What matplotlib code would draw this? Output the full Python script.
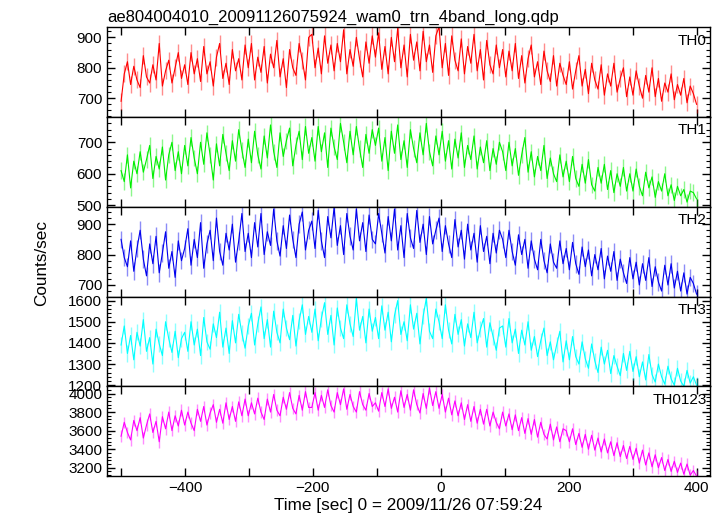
import numpy as np
import matplotlib
matplotlib.use("Agg")
import matplotlib.pyplot as plt
from matplotlib.ticker import MultipleLocator, AutoMinorLocator

plt.rcParams['font.family'] = ['Liberation Sans', 'DejaVu Sans']

title = "ae804004010_20091126075924_wam0_trn_4band_long.qdp"
band_names = ["TH0", "TH1", "TH2", "TH3", "TH0123"]
band_colors = ["#ff0000", "#00ee00", "#0000ee", "#00ffff", "#ff00ff"]
t_start, t_end = -500, 400

th0 = [690, 780, 820, 745, 805, 760, 735, 840, 770, 750, 810, 760, 880, 740, 790, 825, 750, 800, 850, 765,
       810, 745, 850, 780, 830, 755, 870, 780, 820, 740, 835, 880, 765, 815, 745, 860, 790, 830, 760, 875,
       800, 880, 760, 835, 785, 870, 750, 845, 800, 890, 770, 830, 735, 860, 800, 775, 880, 825, 760, 900,
       910, 800, 865, 780, 905, 815, 875, 790, 880, 820, 925, 780, 860, 805, 900, 830, 770, 885, 815, 905,
       835, 915, 795, 870, 780, 900, 820, 930, 800, 875, 770, 910, 825, 885, 790, 920, 820, 875, 785, 905,
       935, 800, 880, 775, 905, 825, 790, 895, 780, 870, 815, 910, 790, 860, 760, 890, 810, 780, 875, 800,
       860, 770, 855, 790, 880, 765, 840, 750, 830, 875, 770, 820, 745, 855, 790, 755, 840, 740, 815, 775,
       745, 820, 730, 790, 840, 740, 795, 715, 815, 760, 730, 810, 710, 780, 740, 815, 720, 765, 800, 705,
       770, 710, 790, 740, 700, 775, 720, 800, 705, 765, 690, 750, 720, 780, 695, 745, 710, 765, 685, 740,
       715, 680]
th1 = [610, 575, 660, 555, 640, 600, 670, 605, 645, 690, 585, 655, 615, 685, 580, 660, 700, 610, 670, 600,
       690, 625, 715, 650, 600, 700, 630, 730, 660, 580, 695, 625, 725, 665, 610, 705, 640, 740, 675, 620,
       710, 635, 735, 660, 615, 720, 650, 755, 670, 620, 730, 655, 705, 745, 625, 690, 735, 645, 750, 665,
       715, 640, 750, 670, 730, 620, 745, 685, 645, 760, 700, 635, 735, 660, 750, 680, 620, 725, 665, 740,
       690, 745, 640, 715, 610, 735, 665, 755, 645, 705, 620, 740, 680, 635, 730, 660, 760, 670, 625, 720,
       660, 735, 640, 705, 615, 710, 650, 730, 620, 690, 645, 720, 615, 685, 635, 705, 610, 680, 630, 700,
       670, 610, 700, 625, 680, 595, 660, 715, 605, 670, 590, 655, 610, 690, 585, 650, 600, 575, 660, 590,
       640, 575, 655, 585, 560, 630, 570, 645, 565, 545, 620, 570, 630, 550, 610, 540, 600, 560, 620, 545,
       600, 545, 615, 560, 530, 605, 555, 590, 525, 575, 545, 600, 530, 565, 515, 560, 530, 550, 510, 545,
       540, 520]
th2 = [850, 790, 760, 845, 745, 820, 880, 785, 730, 835, 770, 860, 740, 805, 875, 755, 810, 725, 845, 780,
       820, 885, 765, 850, 790, 905, 755, 835, 880, 780, 920, 810, 765, 870, 815, 900, 775, 845, 935, 810,
       870, 790, 905, 825, 935, 800, 875, 830, 950, 845, 795, 895, 820, 930, 850, 790, 900, 940, 815, 880,
       910, 820, 945, 845, 790, 925, 855, 955, 830, 895, 800, 935, 860, 815, 950, 845, 905, 810, 930, 850,
       835, 935, 870, 805, 925, 845, 950, 815, 895, 790, 935, 855, 820, 945, 840, 900, 800, 925, 835, 880,
       920, 810, 895, 835, 790, 915, 825, 880, 785, 900, 815, 870, 775, 895, 810, 860, 770, 870, 805, 880,
       850, 790, 880, 810, 765, 865, 800, 850, 755, 845, 785, 750, 850, 780, 740, 835, 775, 755, 845, 770,
       820, 750, 840, 770, 735, 825, 760, 815, 730, 800, 750, 820, 720, 795, 745, 810, 715, 785, 740, 705,
       790, 720, 775, 700, 770, 715, 790, 695, 760, 710, 680, 765, 700, 770, 690, 745, 680, 740, 670, 725,
       705, 670]
th3 = [1390, 1480, 1350, 1435, 1320, 1450, 1385, 1510, 1360, 1425, 1300, 1465, 1395, 1340, 1500, 1420, 1355, 1455, 1330, 1420,
       1450, 1360, 1500, 1390, 1465, 1340, 1520, 1405, 1370, 1490, 1425, 1545, 1380, 1470, 1350, 1505, 1400, 1535, 1445, 1375,
       1480, 1540, 1390, 1490, 1570, 1420, 1510, 1380, 1550, 1450, 1400, 1560, 1470, 1415, 1530, 1385, 1505, 1580, 1440, 1525,
       1450, 1560, 1410, 1515, 1590, 1440, 1530, 1390, 1565, 1470, 1420, 1580, 1490, 1430, 1610, 1460, 1525, 1400, 1560, 1455,
       1520, 1420, 1575, 1460, 1545, 1405, 1530, 1600, 1440, 1500, 1410, 1580, 1465, 1540, 1395, 1525, 1610, 1455, 1420, 1560,
       1500, 1420, 1580, 1460, 1395, 1535, 1440, 1510, 1385, 1490, 1425, 1545, 1400, 1465, 1515, 1380, 1495, 1430, 1365, 1470,
       1480, 1380, 1515, 1400, 1465, 1350, 1460, 1390, 1500, 1365, 1430, 1335, 1410, 1470, 1340, 1405, 1320, 1390, 1455, 1310,
       1410, 1320, 1430, 1335, 1300, 1405, 1325, 1280, 1395, 1315, 1260, 1380, 1300, 1365, 1255, 1340, 1290, 1245, 1350, 1270,
       1360, 1265, 1335, 1240, 1310, 1225, 1345, 1250, 1215, 1300, 1240, 1205, 1290, 1230, 1200, 1280, 1220, 1195, 1270, 1210,
       1240, 1200]
th0123 = [3540, 3690, 3580, 3500, 3710, 3600, 3740, 3520, 3660, 3780, 3580, 3700, 3480, 3750, 3620, 3800, 3600, 3760, 3650, 3820,
          3660, 3800, 3680, 3600, 3830, 3700, 3860, 3660, 3790, 3880, 3690, 3830, 3680, 3900, 3720, 3860, 3700, 3910, 3760, 3940,
          3760, 3900, 3780, 3950, 3800, 3720, 3940, 3800, 3990, 3820, 3760, 3960, 3830, 4010, 3840, 3780, 3980, 3820, 4020, 3850,
          3850, 4010, 3820, 3980, 3850, 4040, 3870, 3800, 4010, 3880, 4050, 3830, 3990, 3860, 3800, 4020, 3880, 3820, 4000, 3860,
          3900, 3810, 4010, 3860, 4050, 3840, 3960, 3800, 4030, 3850, 3990, 3820, 4040, 3880, 3790, 4000, 3840, 4060, 3870, 4020,
          3840, 3990, 3800, 3950, 3770, 3920, 3760, 3900, 3720, 3880, 3700, 3860, 3680, 3830, 3670, 3830, 3650, 3800, 3690, 3620,
          3800, 3650, 3780, 3610, 3770, 3600, 3740, 3570, 3730, 3560, 3720, 3530, 3690, 3560, 3510, 3670, 3500, 3640, 3480, 3620,
          3600, 3480, 3620, 3450, 3570, 3420, 3560, 3400, 3550, 3390, 3520, 3370, 3510, 3360, 3480, 3330, 3470, 3320, 3440, 3300,
          3430, 3290, 3410, 3250, 3390, 3230, 3360, 3210, 3340, 3200, 3310, 3170, 3290, 3160, 3270, 3150, 3250, 3130, 3240, 3120,
          3170, 3110]
band_errors = [28, 26, 29, 38, 62]
y_limits = [(638, 933), (495, 780), (662, 957), (1195, 1619), (3111, 4078)]
y_major = [100, 100, 100, 100, 200]
x_ticks = [-400, -200, 0, 200, 400]
series = [th0, th1, th2, th3, th0123]

fig = plt.figure(figsize=(7.23, 5.16), dpi=100)
gs = fig.add_gridspec(5, 1, left=0.148, right=0.982, top=0.947, bottom=0.0775, hspace=0)
axes = [fig.add_subplot(gs[i]) for i in range(5)]

for i, ax in enumerate(axes):
    y = np.array(series[i], dtype=float)
    t = np.linspace(t_start, t_end, len(y))
    ax.errorbar(t, y, yerr=band_errors[i], fmt='none', ecolor=band_colors[i],
                alpha=0.45, elinewidth=1.0, capsize=0)
    ax.plot(t, y, color=band_colors[i], lw=0.8)
    ax.set_xlim(-522, 421)
    ax.set_ylim(*y_limits[i])
    ax.yaxis.set_major_locator(MultipleLocator(y_major[i]))
    ax.yaxis.set_minor_locator(AutoMinorLocator(5))
    ax.set_xticks(x_ticks)
    ax.xaxis.set_minor_locator(MultipleLocator(100))
    ax.tick_params(which='both', direction='in', top=True, right=True, labelsize=11)
    ax.tick_params(which='major', length=6, width=1)
    ax.tick_params(axis='y', which='minor', length=3, width=0.8)
    ax.tick_params(axis='x', which='minor', length=6, width=1)
    for s in ax.spines.values():
        s.set_linewidth(1.0)
    ax.text(0.995, 0.93, band_names[i], transform=ax.transAxes, ha='right', va='top', fontsize=11)
    if i < 4:
        ax.tick_params(labelbottom=False)

axes[0].set_title(title, loc='left', fontsize=12, pad=4)
axes[-1].set_xlabel("Time [sec] 0 = 2009/11/26 07:59:24", fontsize=12.3, labelpad=2)
fig.text(0.058, 0.49, "Counts/sec", rotation=90, ha='center', va='center', fontsize=12.3)

fig.savefig("out.png", dpi=100)
